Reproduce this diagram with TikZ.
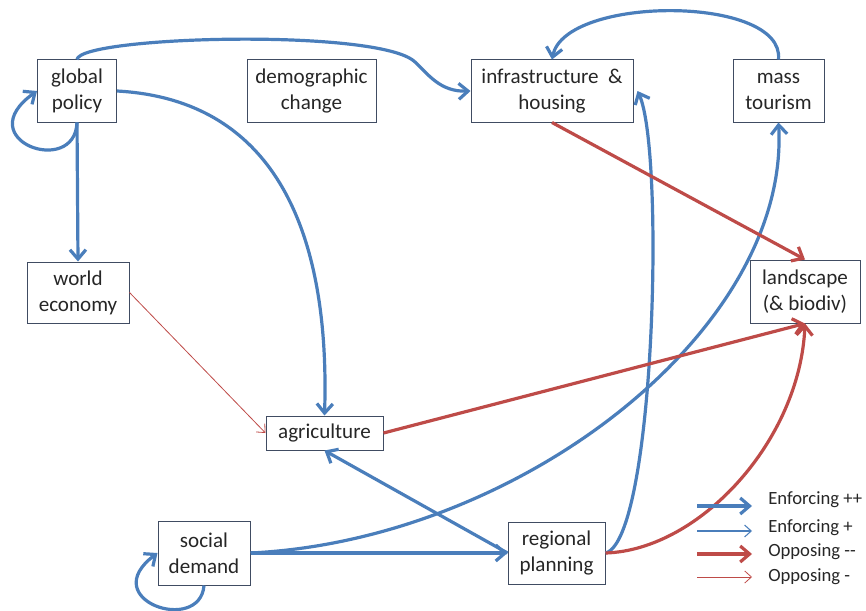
\documentclass[tikz,border=0pt]{standalone}
\usepackage{fontspec}
\setmainfont{Carlito}
\usetikzlibrary{arrows.meta}

\definecolor{enfblue}{RGB}{74,126,187}
\definecolor{oppred}{RGB}{190,75,72}
\definecolor{boxline}{RGB}{64,76,98}

\tikzset{
  factor/.style={draw=boxline, line width=0.75pt, align=center, inner sep=1pt,
    font=\fontsize{15.8}{19.5}\selectfont, text=black!85},
  legtext/.style={anchor=west, inner sep=0pt, font=\fontsize{14}{16}\selectfont, text=black!85},
  enfpp/.style={draw=enfblue, line width=2.4pt, -{Straight Barb[length=7pt,width=12pt]}},
  enfp/.style={draw=enfblue, line width=0.8pt, -{Straight Barb[length=5pt,width=9pt]}},
  opppp/.style={draw=oppred, line width=2.4pt, -{Straight Barb[length=7pt,width=12pt]}},
  oppp/.style={draw=oppred, line width=0.6pt, -{Straight Barb[length=5pt,width=9pt]}}
}

\begin{document}
\begin{tikzpicture}[x=0.75pt,y=0.75pt,yscale=-1,xscale=1]
\useasboundingbox (0,0) rectangle (866,610);

% Factors
\node[factor, minimum width=59.25pt, minimum height=46.5pt] (gp) at (77,91) {global\\policy};
\node[factor, minimum width=96.75pt, minimum height=46.5pt] (dem) at (311.5,91) {demographic\\change};
\node[factor, minimum width=121.5pt, minimum height=46.5pt] (infra) at (552,91) {infrastructure~~\&\\housing};
\node[factor, minimum width=68.25pt, minimum height=46.5pt] (mt) at (778.5,91) {mass\\tourism};
\node[factor, minimum width=76.5pt, minimum height=45.75pt] (we) at (78,292.5) {world\\economy};
\node[factor, minimum width=82.5pt, minimum height=47.25pt] (land) at (805,291.5) {landscape\\(\& biodiv)};
\node[factor, minimum width=87.75pt, minimum height=25.5pt] (agr) at (324.5,433) {agriculture};
\node[factor, minimum width=69pt, minimum height=48pt] (sd) at (204,553) {social\\demand};
\node[factor, minimum width=72.75pt, minimum height=46.5pt] (rp) at (556.5,553) {regional\\planning};

% Enforcing links
\draw[enfpp] (gp.south) .. controls (75,178) and (-32,140) .. (gp.west);
\draw[enfpp] (gp.north) .. controls (80,36) and (380,28) .. (415,62)
  .. controls (428,74) and (440,92) .. (infra.west);
\draw[enfpp] (gp.south) -- (we.north);
\draw[enfpp] (gp.east) .. controls (280,100) and (330,240) .. (agr.north);
\draw[enfpp] (mt.north) .. controls (785,-5) and (565,-5) .. (infra.north);
\draw[enfpp] (sd.south) .. controls (200,635) and (95,600) .. (sd.west);
\draw[enfpp] (sd.east) -- (rp.west);
\draw[enfpp] (sd.east) .. controls (520,540) and (790,330) .. (mt.south);
\draw[enfpp] (rp.west) -- (agr.south);
\draw[enfpp] (rp.east) .. controls (655,540) and (665,150) .. ([xshift=3]infra.east);

% Opposing links
\draw[oppp] (we.east) -- (agr.west);
\draw[opppp] (agr.east) -- (land.south);
\draw[opppp] (infra.south) -- (land.north);
\draw[opppp] (rp.east) .. controls (700,550) and (800,440) .. (land.south);

% Legend
\node[legtext] (l1) at (768,500) {Enforcing ++};
\node[legtext] (l2) at (768,528) {Enforcing +};
\node[legtext] (l3) at (768,552) {Opposing -{}-};
\node[legtext] (l4) at (768,577) {Opposing -};
\coordinate (s1) at (697,506); \coordinate (s2) at (697,531);
\coordinate (s3) at (697,554); \coordinate (s4) at (697,577);
\draw[enfpp] (s1) -- ++(55,0);
\draw[enfp] (s2) -- ++(55,0);
\draw[opppp] (s3) -- ++(55,0);
\draw[oppp] (s4) -- ++(55,0);
\end{tikzpicture}
\end{document}
